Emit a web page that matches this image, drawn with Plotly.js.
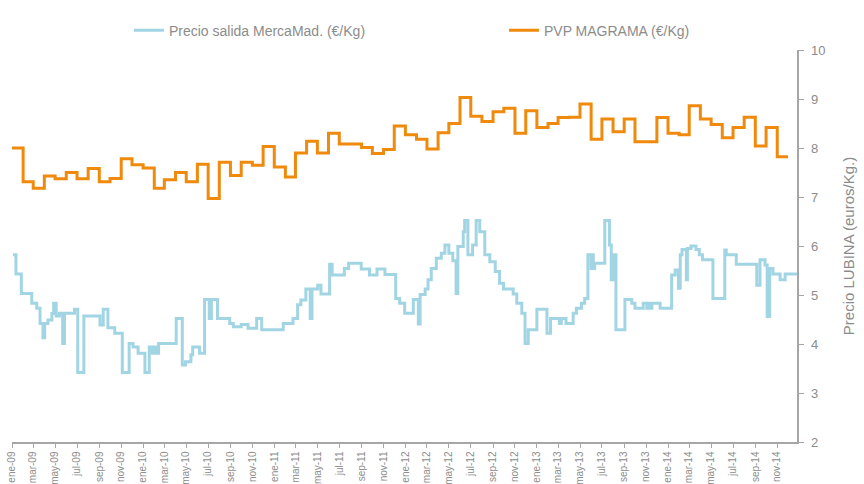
<!DOCTYPE html>
<html>
<head>
<meta charset="utf-8">
<script src="https://cdn.plot.ly/plotly-3.0.1.min.js"></script>
<style>html,body{margin:0;padding:0;background:#fff;}#chart{width:864px;height:484px;}</style>
</head>
<body>
<div id="chart"></div>
<script>
// Precio salida MercaMad (€/Kg) - weekly step changes
const blueDates = [
'2009-01-04','2009-01-12','2009-01-27','2009-02-25','2009-03-11','2009-03-20','2009-03-28','2009-04-02','2009-04-11','2009-04-22',
'2009-04-27','2009-05-04','2009-05-13','2009-05-22','2009-05-27','2009-06-24','2009-07-03','2009-07-20','2009-09-03','2009-09-12',
'2009-09-25','2009-10-14','2009-11-04','2009-11-23','2009-12-04','2009-12-18','2010-01-06','2010-01-18','2010-01-25','2010-02-01',
'2010-02-07','2010-02-13','2010-04-03','2010-04-20','2010-04-29','2010-05-14','2010-05-19','2010-06-07','2010-06-21','2010-07-04',
'2010-07-10','2010-07-27','2010-08-30','2010-09-09','2010-10-01','2010-10-20','2010-11-13','2010-11-27','2011-01-26','2011-02-22',
'2011-03-07','2011-03-16','2011-03-30','2011-04-11','2011-04-16','2011-05-02','2011-05-11','2011-06-04','2011-06-11','2011-07-15',
'2011-07-27','2011-08-31','2011-09-23','2011-10-14','2011-11-05','2011-12-05','2011-12-16','2011-12-30','2012-01-23','2012-02-06',
'2012-02-11','2012-02-25','2012-03-04','2012-03-13','2012-03-27','2012-04-10','2012-04-20','2012-05-01','2012-05-12','2012-05-21',
'2012-05-26','2012-06-10','2012-06-14','2012-06-23','2012-07-06','2012-07-16','2012-07-26','2012-08-09','2012-08-23','2012-09-07',
'2012-09-19','2012-09-30','2012-10-27','2012-11-06','2012-11-20','2012-11-29','2012-12-08','2013-01-01','2013-01-29','2013-02-08',
'2013-03-05','2013-03-10','2013-03-23','2013-04-12','2013-04-21','2013-05-05','2013-05-14','2013-05-23','2013-06-01','2013-06-04',
'2013-06-07','2013-06-11','2013-07-09','2013-07-22','2013-07-27','2013-08-02','2013-08-09','2013-09-03','2013-09-22','2013-10-01',
'2013-10-24','2013-11-03','2013-11-10','2013-11-13','2013-11-17','2013-12-10','2014-01-11','2014-01-21','2014-01-30','2014-02-04',
'2014-02-09','2014-02-21','2014-02-24','2014-03-06','2014-03-20','2014-03-29','2014-04-07','2014-05-06','2014-06-08','2014-06-12',
'2014-07-10','2014-09-05','2014-09-14','2014-09-28','2014-10-04','2014-10-11','2014-10-20','2014-11-09','2014-11-23','2014-12-26'
];
const blueValues = [
5.82,5.43,5.03,4.83,4.73,4.42,4.13,4.42,4.49,4.62,
4.83,4.57,4.63,4.01,4.63,4.71,3.42,4.57,4.39,4.71,
4.33,4.22,3.42,4.01,3.94,3.81,3.42,3.94,3.81,3.94,
3.81,4.01,4.52,3.57,3.64,3.78,3.94,3.81,4.91,4.52,
4.91,4.52,4.42,4.35,4.40,4.32,4.52,4.29,4.42,4.52,
4.80,4.90,5.12,4.52,5.12,5.20,5.02,5.63,5.41,5.54,
5.65,5.53,5.41,5.53,5.42,4.93,4.83,4.63,4.91,4.41,
5.01,5.12,5.31,5.54,5.75,5.85,6.02,5.85,5.70,5.03,
5.99,6.29,6.52,5.82,6.02,6.52,6.29,5.82,5.68,5.48,
5.24,5.12,5.02,4.83,4.63,4.01,4.29,4.71,4.22,4.52,
4.42,4.52,4.42,4.63,4.73,4.83,4.93,5.82,5.54,5.82,
5.54,5.65,6.52,6.02,5.31,5.82,4.29,4.91,4.83,4.73,
4.83,4.73,4.83,4.73,4.83,4.73,5.41,5.51,5.14,5.82,
5.93,5.31,5.95,6.00,5.93,5.82,5.72,4.93,5.92,5.82,
5.63,5.20,5.72,5.61,4.56,5.54,5.43,5.31,5.43,5.43
];

// PVP MAGRAMA (€/Kg) - monthly, ene-09 .. nov-14
const orangeValues = [
8.00,7.31,7.18,7.43,7.37,7.50,7.37,7.58,7.31,7.38,7.78,7.66,
7.59,7.18,7.35,7.50,7.31,7.67,6.97,7.71,7.44,7.71,7.65,8.03,
7.61,7.41,7.90,8.14,7.90,8.30,8.08,8.08,8.01,7.89,7.97,8.45,
8.27,8.18,7.98,8.31,8.50,9.03,8.65,8.54,8.74,8.81,8.30,8.76,
8.42,8.50,8.62,8.63,8.90,8.18,8.59,8.33,8.59,8.13,8.13,8.62,
8.30,8.27,8.86,8.59,8.48,8.21,8.42,8.63,8.04,8.42,7.82
];

const monthAbbr = ['ene','feb','mar','abr','may','jun','jul','ago','sep','oct','nov','dic'];
const startYear = 2009;

function monthDate(i){
  const y = startYear + Math.floor(i/12), m = i % 12 + 1;
  return y + '-' + (m < 10 ? '0' + m : m) + '-01';
}
const orangeDates = orangeValues.map((v,i) => monthDate(i));
orangeDates.push(monthDate(orangeValues.length));
const orangeY = orangeValues.concat([orangeValues[orangeValues.length-1]]);

const tickVals = [], tickText = [];
for (let i = 0; i < 72; i += 2) {
  tickVals.push(monthDate(i));
  const y = startYear + Math.floor(i/12);
  tickText.push(monthAbbr[i % 12] + '-' + String(y).slice(2));
}

const gray = '#8c8c8c';
const traces = [
  {x: blueDates, y: blueValues, name: 'Precio salida MercaMad. (€/Kg)', type: 'scatter', mode: 'lines',
   line: {shape: 'hv', color: '#a2d5e3', width: 3}},
  {x: orangeDates, y: orangeY, name: 'PVP MAGRAMA (€/Kg)', type: 'scatter', mode: 'lines',
   line: {shape: 'hv', color: '#ef8a0c', width: 3}}
];

const layout = {
  width: 864, height: 484,
  margin: {l: 12, r: 67, t: 50, b: 42, autoexpand: false},
  paper_bgcolor: '#ffffff', plot_bgcolor: '#ffffff',
  font: {family: 'Liberation Sans, Arial, sans-serif', color: gray, size: 12},
  showlegend: true,
  legend: {orientation: 'h', x: 0.149, xanchor: 'left', y: 1.09, yanchor: 'top',
           entrywidth: 330, entrywidthmode: 'pixels', itemwidth: 30,
           font: {size: 14, color: gray}, bgcolor: 'rgba(0,0,0,0)'},
  xaxis: {type: 'date', range: ['2009-01-01', '2014-12-26'],
          tickmode: 'array', tickvals: tickVals, ticktext: tickText, tickangle: -90,
          tickfont: {size: 10, color: gray},
          showgrid: false, zeroline: false,
          showline: true, linecolor: '#a6a6a6', linewidth: 1.5,
          ticks: 'outside', ticklen: 4, tickcolor: '#a6a6a6', tickwidth: 1},
  yaxis: {side: 'right', range: [2, 10], dtick: 1, tick0: 2,
          tickfont: {size: 13, color: gray}, ticklabelstandoff: 5,
          showgrid: false, zeroline: false,
          showline: true, linecolor: '#a6a6a6', linewidth: 1.5,
          ticks: 'outside', ticklen: 5, tickcolor: '#a6a6a6', tickwidth: 1,
          title: {text: 'Precio LUBINA (euros/Kg.)', font: {size: 15, color: gray}, standoff: 19}}
};

Plotly.newPlot('chart', traces, layout, {displayModeBar: false, staticPlot: true});
</script>
</body>
</html>
